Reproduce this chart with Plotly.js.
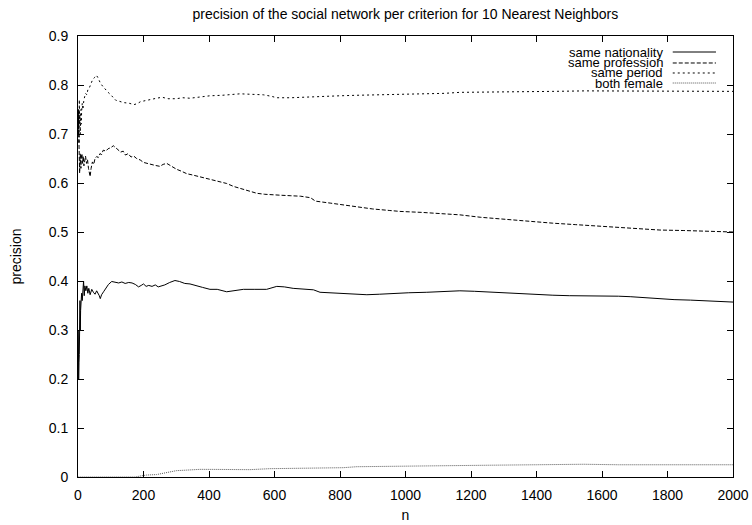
<!DOCTYPE html>
<html>
<head>
<meta charset="utf-8">
<script src="https://cdn.plot.ly/plotly-3.0.1.min.js"></script>
<style>
  html, body { margin: 0; padding: 0; background: #fff; }
  #chart { width: 752px; height: 525px; }
</style>
</head>
<body>
<div id="chart"></div>
<script>
// Precision of the social network per criterion, 10 nearest neighbours.

const seriesNames = ["same nationality", "same profession", "same period", "both female"];

const nNationality = [1,2,3,4,5,6,7,8,9,10,11,13,15,17,19,21,24,27,30,33,37,42,47,52,57,61,65,68,72,78,85,93,103,114,124,134,144,155,165,175,185,193,200,208,216,226,236,245,255,265,280,296,310,326,342,360,380,403,425,454,480,505,540,576,607,630,657,690,719,739,770,800,840,882,920,963,1010,1065,1110,1166,1210,1268,1310,1350,1400,1450,1500,1543,1600,1650,1686,1730,1767,1820,1870,1909,1960,2000];
const pNationality = [0.300,0.200,0.233,0.250,0.320,0.360,0.300,0.340,0.370,0.360,0.375,0.360,0.380,0.400,0.370,0.390,0.380,0.390,0.375,0.385,0.372,0.383,0.377,0.373,0.380,0.376,0.370,0.364,0.372,0.378,0.385,0.393,0.399,0.397,0.396,0.398,0.395,0.397,0.396,0.393,0.388,0.391,0.394,0.389,0.391,0.389,0.392,0.388,0.390,0.392,0.397,0.401,0.399,0.395,0.394,0.390,0.387,0.383,0.383,0.378,0.381,0.383,0.383,0.383,0.389,0.388,0.385,0.384,0.382,0.377,0.376,0.375,0.374,0.372,0.373,0.375,0.376,0.377,0.378,0.380,0.379,0.377,0.375,0.373,0.372,0.371,0.370,0.370,0.369,0.369,0.368,0.366,0.363,0.362,0.361,0.360,0.358,0.357];

const nProfession = [1,2,3,4,5,6,7,8,9,10,12,14,16,18,20,23,26,29,32,35,37,40,44,48,52,57,62,67,72,77,85,92,100,108,115,122,130,138,145,153,162,170,179,190,200,210,222,235,250,260,271,285,301,316,332,352,370,383,403,420,434,454,475,505,525,546,570,586,620,650,680,710,725,770,800,850,900,950,983,1050,1100,1166,1230,1300,1380,1450,1520,1594,1660,1720,1777,1850,1920,2000];
const pProfession = [0.700,0.750,0.680,0.650,0.620,0.640,0.660,0.647,0.630,0.650,0.660,0.640,0.655,0.635,0.645,0.655,0.640,0.648,0.630,0.620,0.613,0.630,0.643,0.638,0.650,0.654,0.652,0.660,0.658,0.667,0.665,0.670,0.672,0.676,0.671,0.668,0.663,0.665,0.657,0.660,0.653,0.655,0.650,0.647,0.642,0.640,0.637,0.636,0.634,0.638,0.640,0.634,0.628,0.624,0.619,0.616,0.613,0.612,0.609,0.606,0.603,0.599,0.593,0.587,0.582,0.579,0.577,0.576,0.575,0.574,0.573,0.570,0.563,0.559,0.556,0.551,0.547,0.544,0.542,0.540,0.538,0.535,0.530,0.526,0.521,0.518,0.515,0.512,0.510,0.507,0.504,0.503,0.502,0.500];

const nPeriod = [1,2,3,4,5,6,7,8,9,10,11,13,15,18,21,23,27,30,34,38,44,50,56,60,65,69,76,84,92,100,108,115,125,140,155,171,181,191,205,222,240,257,275,300,320,342,370,403,440,470,495,530,566,590,607,650,708,750,800,850,912,980,1065,1120,1166,1250,1350,1450,1550,1650,1750,1850,1950,2000];
const pPeriod = [0.700,0.750,0.680,0.770,0.720,0.740,0.700,0.730,0.750,0.720,0.745,0.763,0.750,0.770,0.776,0.783,0.780,0.790,0.793,0.800,0.810,0.815,0.820,0.816,0.808,0.803,0.797,0.790,0.785,0.780,0.774,0.769,0.767,0.764,0.763,0.760,0.762,0.766,0.768,0.771,0.773,0.775,0.772,0.772,0.774,0.773,0.776,0.778,0.779,0.781,0.782,0.781,0.780,0.777,0.774,0.774,0.775,0.776,0.778,0.779,0.780,0.780,0.781,0.783,0.785,0.786,0.787,0.787,0.788,0.788,0.788,0.787,0.787,0.787];

const nFemale = [1,50,100,150,175,190,210,240,261,280,301,330,372,420,485,525,586,650,720,780,810,851,950,1050,1136,1250,1400,1543,1650,1800,2000];
const pFemale = [0,0,0,0,0,0.002,0.004,0.005,0.0075,0.010,0.013,0.014,0.0156,0.0155,0.0156,0.015,0.017,0.0175,0.018,0.0177,0.019,0.021,0.022,0.0225,0.023,0.024,0.025,0.026,0.025,0.025,0.025];

const xTickVals = [0,200,400,600,800,1000,1200,1400,1600,1800,2000];
const yTickVals = [0,0.1,0.2,0.3,0.4,0.5,0.6,0.7,0.8,0.9];

const FONT = '"Liberation Sans", Arial, Helvetica, sans-serif';
const FS = 14;
const KEY_FS = 13;

const styles = [
  { color: '#000', width: 1, dash: 'solid' },
  { color: '#000', width: 1, dash: '4px,2px' },
  { color: '#000', width: 1, dash: '2px,3px' },
  { color: '#555', width: 1, dash: '1px,1px' }
];

const xs = [nNationality, nProfession, nPeriod, nFemale];
const ys = [pNationality, pProfession, pPeriod, pFemale];

const traces = seriesNames.map((name, i) => ({
  type: 'scatter',
  mode: 'lines',
  name: name,
  x: xs[i],
  y: ys[i],
  line: styles[i],
  showlegend: false,
  hoverinfo: 'skip'
}));

// gnuplot-style key: right-aligned labels with the line sample to their right
const keyTextX = 0.896, keySampleX0 = 0.908, keySampleX1 = 0.974;
const keyRowY = [0.9637, 0.9388, 0.9161, 0.8934];

const annotations = seriesNames.map((name, i) => ({
  xref: 'paper', yref: 'paper',
  x: keyTextX, y: keyRowY[i],
  xanchor: 'right', yanchor: 'middle',
  text: name, showarrow: false,
  font: { family: FONT, size: KEY_FS, color: '#000' }
}));

const shapes = seriesNames.map((name, i) => ({
  type: 'line', xref: 'paper', yref: 'paper',
  x0: keySampleX0, x1: keySampleX1, y0: keyRowY[i], y1: keyRowY[i],
  line: styles[i]
}));

const axisCommon = {
  showgrid: false, zeroline: false,
  showline: true, linecolor: '#000', linewidth: 1, mirror: 'ticks',
  ticks: 'inside', ticklen: 6, tickcolor: '#000', tickwidth: 1,
  tickfont: { family: FONT, size: FS, color: '#000' }
};

const layout = {
  width: 752, height: 525,
  margin: { l: 78, r: 19, t: 36, b: 48 },
  paper_bgcolor: '#fff', plot_bgcolor: '#fff',
  font: { family: FONT, color: '#000' },
  title: {
    text: 'precision of the social network per criterion for 10 Nearest Neighbors',
    font: { family: FONT, size: FS, color: '#000' },
    x: 0.539, xanchor: 'center', y: 0.973, yanchor: 'middle', yref: 'container'
  },
  xaxis: Object.assign({}, axisCommon, {
    range: [0, 2000], tickvals: xTickVals, ticktext: xTickVals.map(String),
    ticklabelstandoff: 5,
    title: { text: 'n', font: { family: FONT, size: FS, color: '#000' }, standoff: 8 }
  }),
  yaxis: Object.assign({}, axisCommon, {
    range: [0, 0.9], tickvals: yTickVals, ticktext: yTickVals.map(v => String(v)),
    ticklabelstandoff: 6,
    title: { text: 'precision', font: { family: FONT, size: FS, color: '#000' }, standoff: 23 }
  }),
  annotations: annotations,
  shapes: shapes
};

Plotly.newPlot('chart', traces, layout, { staticPlot: true, displayModeBar: false });
</script>
</body>
</html>
